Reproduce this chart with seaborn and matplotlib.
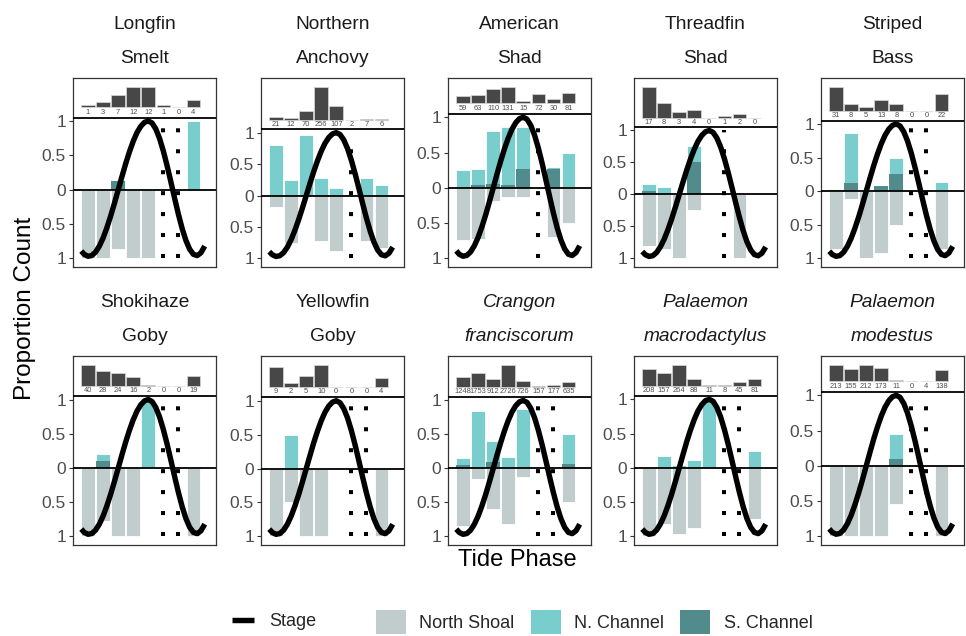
import matplotlib
matplotlib.use("Agg")
import matplotlib.pyplot as plt
import seaborn as sns
from matplotlib.lines import Line2D
from matplotlib.patches import Patch

# ---------------- data ----------------
species = ["Longfin\nSmelt", "Northern\nAnchovy", "American\nShad", "Threadfin\nShad",
           "Striped\nBass", "Shokihaze\nGoby", "Yellowfin\nGoby", "Crangon\nfranciscorum",
           "Palaemon\nmacrodactylus", "Palaemon\nmodestus"]
italic_title = [False, False, False, False, False, False, False, True, True, True]
phases = [1, 2, 3, 4, 5, 6, 7, 8]

counts = [
    [1, 3, 7, 12, 12, 1, 0, 4],
    [21, 12, 70, 256, 107, 2, 7, 6],
    [59, 63, 110, 131, 15, 72, 30, 81],
    [17, 8, 3, 4, 0, 1, 2, 0],
    [31, 8, 5, 13, 8, 0, 0, 22],
    [40, 28, 24, 16, 2, 0, 0, 19],
    [9, 2, 5, 10, 0, 0, 0, 4],
    [1248, 1753, 912, 2726, 726, 157, 177, 635],
    [208, 157, 264, 88, 11, 8, 45, 81],
    [213, 155, 212, 173, 11, 0, 4, 138],
]
north_shoal = [
    [1.0, 1.0, 0.86, 1.0, 1.0, 0, 0, 0],
    [0.19, 0.75, 0, 0.72, 0.88, 0, 0.72, 0.83],
    [0.74, 0.72, 0.19, 0.13, 0.13, 0, 0.70, 0.50],
    [0.80, 0.86, 1.0, 0.24, 0, 0, 1.0, 0],
    [0.86, 0.12, 1.0, 0.92, 0.50, 0, 0, 0.86],
    [1.0, 0.78, 1.0, 1.0, 0, 0, 0, 1.0],
    [1.0, 0.49, 1.0, 1.0, 0, 0, 0, 1.0],
    [0.85, 0.16, 0.59, 0.82, 0.12, 0, 0, 0.49],
    [1.0, 0.82, 0.96, 0.88, 0, 0, 0, 0.75],
    [1.0, 1.0, 1.0, 1.0, 0.54, 0, 0, 1.0],
]
n_channel = [
    [0, 0, 0.14, 0, 0, 0, 0, 1.0],
    [0.81, 0.25, 0.97, 0.28, 0.12, 0, 0.28, 0.17],
    [0.25, 0.26, 0.80, 0.86, 0.86, 0, 0.30, 0.49],
    [0.17, 0.12, 0, 0.75, 0, 0, 0, 0],
    [0.03, 0.87, 0, 0.07, 0.49, 0, 0, 0.13],
    [0, 0.21, 0, 0, 1.0, 0, 0, 0],
    [0, 0.50, 0, 0, 0, 0, 0, 0],
    [0.15, 0.84, 0.41, 0.17, 0.87, 0, 0, 0.50],
    [0, 0.17, 0.04, 0.11, 1.0, 0, 0, 0.25],
    [0, 0, 0, 0, 0.45, 0, 0, 0],
]
s_channel = [
    [0, 0, 0.13, 0, 0, 0, 0, 0],
    [0, 0, 0, 0, 0, 0, 0, 0],
    [0, 0.04, 0.06, 0.04, 0.26, 0, 0.26, 0],
    [0.06, 0, 0, 0.50, 0, 0, 0, 0],
    [0, 0.12, 0, 0.07, 0.25, 0, 0, 0],
    [0, 0.10, 0, 0, 0, 0, 0, 0],
    [0, 0, 0, 0, 0, 0, 0, 0],
    [0.05, 0, 0.10, 0, 0, 0, 0, 0.06],
    [0, 0, 0, 0, 0, 0, 0, 0],
    [0, 0, 0, 0, 0.09, 0, 0, 0],
]
dotted_phases = [[6, 7], [6], [6], [6], [6, 7], [6, 7], [6, 7], [6, 7], [6, 7], [6, 7]]

stage_x = [0.55, 0.75, 1.0, 1.25, 1.5, 1.75, 2.0, 2.25, 2.5, 2.75, 3.0, 3.25, 3.5, 3.75,
           4.0, 4.25, 4.5, 4.75, 5.0, 5.25, 5.5, 5.75, 6.0, 6.25, 6.5, 6.75, 7.0, 7.25,
           7.5, 7.75, 8.0, 8.25, 8.5, 8.75]
stage_y = [-0.893, -0.942, -0.969, -0.958, -0.908, -0.821, -0.702, -0.554, -0.385, -0.199,
           -0.005, 0.190, 0.379, 0.551, 0.704, 0.830, 0.922, 0.980, 1.0, 0.971, 0.884,
           0.746, 0.564, 0.350, 0.116, -0.124, -0.355, -0.564, -0.738, -0.866, -0.941,
           -0.959, -0.918, -0.821]

ytick_vals = [-1, -0.5, 0, 0.5, 1]
ytick_labels = ["1", "0.5", "0", "0.5", "1"]

# ---------------- style ----------------
sns.set_style("white")
plt.rcParams["font.family"] = ["Liberation Sans", "DejaVu Sans"]

col_shoal = "#C1CDCD"
col_nch = "#79CDCD"
col_sch = "#528B8B"
col_count = "#474747"

W, H = 966, 636
fig = plt.figure(figsize=(W / 100, H / 100), dpi=100)

lefts = [73, 261, 448, 634, 821]
tops = [78, 356]
pw, ph = 143, 189
count_base = 1.2

for i in range(10):
    r, c = divmod(i, 5)
    ax = fig.add_axes([lefts[c] / W, 1 - (tops[r] + ph) / H, pw / W, ph / H])
    tot = sum(counts[i])
    props = [v / tot for v in counts[i]]

    sns.barplot(x=phases, y=[-v for v in north_shoal[i]], native_scale=True, width=0.9,
                color=col_shoal, saturation=1, errorbar=None, edgecolor="white",
                linewidth=0.6, ax=ax, zorder=1)
    sns.barplot(x=phases, y=n_channel[i], native_scale=True, width=0.9,
                color=col_nch, saturation=1, errorbar=None, edgecolor="white",
                linewidth=0.6, ax=ax, zorder=1.5)
    sns.barplot(x=phases, y=s_channel[i], native_scale=True, width=0.9,
                color=col_sch, saturation=1, errorbar=None, edgecolor="none",
                linewidth=0, ax=ax, zorder=2)
    sns.barplot(x=phases, y=props, native_scale=True, width=0.9, bottom=count_base,
                color=col_count, saturation=1, errorbar=None, edgecolor="#d9d9d9",
                linewidth=0.5, ax=ax, zorder=2)
    for xp, cnt in zip(phases, counts[i]):
        ax.text(xp, 1.13, str(cnt), ha="center", va="center", fontsize=5.4,
                color="#4d4d4d", zorder=6)

    ax.axhline(0, color="black", lw=1.3, zorder=3)
    ax.axhline(1.05, color="black", lw=1.3, zorder=3)
    vl = ax.vlines(dotted_phases[i], -1, 1, colors="black", linewidth=2.9,
                   linestyles=[(0, (1, 4.2))], zorder=4)
    vl.set_capstyle("butt")

    sns.lineplot(x=stage_x, y=stage_y, sort=False, estimator=None, color="black",
                 linewidth=3.9, ax=ax, zorder=5)
    ax.lines[-1].set_solid_capstyle("butt")

    top = count_base + max(props)
    rng = top + 1
    ax.set_ylim(-1 - 0.05 * rng, top + 0.05 * rng)
    ax.set_xlim(0, 9.5)
    ax.set_xticks([])
    ax.set_yticks(ytick_vals)
    ax.set_yticklabels(ytick_labels)
    ax.tick_params(axis="y", length=3, width=0.8, color="#333333", labelsize=12.5,
                   labelcolor="#4d4d4d", pad=2, left=True)
    ax.set_xlabel("")
    ax.set_ylabel("")
    for s in ax.spines.values():
        s.set_color("#333333")
        s.set_linewidth(0.9)
    ax.set_title(species[i], fontsize=13.8, linespacing=2.25, pad=11, color="#1a1a1a",
                 style="italic" if italic_title[i] else "normal")

fig.text(25 / W, 1 - 308 / H, "Proportion Count", rotation=90, ha="center", va="center",
         fontsize=17.5, color="black")
fig.text(517 / W, 1 - 560 / H, "Tide Phase", ha="center", va="center", fontsize=17,
         color="black")

leg_y = 1 - 622 / H
h1 = [Line2D([0], [0], color="black", lw=3.9, solid_capstyle="butt")]
leg1 = fig.legend(h1, ["Stage"], loc="center left", bbox_to_anchor=(232 / W, leg_y),
                  frameon=False, fontsize=13, handlelength=1.2, handletextpad=0.85,
                  borderpad=0, borderaxespad=0)
h2 = [Patch(facecolor=col_shoal, edgecolor="none"),
      Patch(facecolor=col_nch, edgecolor="none"),
      Patch(facecolor=col_sch, edgecolor="none")]
leg2 = fig.legend(h2, ["North Shoal", "N. Channel", "S. Channel"], loc="center left",
                  bbox_to_anchor=(376 / W, leg_y), ncol=3, frameon=False, fontsize=13,
                  handlelength=1.65, handleheight=1.65, handletextpad=0.75,
                  columnspacing=0.9, borderpad=0, borderaxespad=0)

fig.savefig("out.png", dpi=100)
